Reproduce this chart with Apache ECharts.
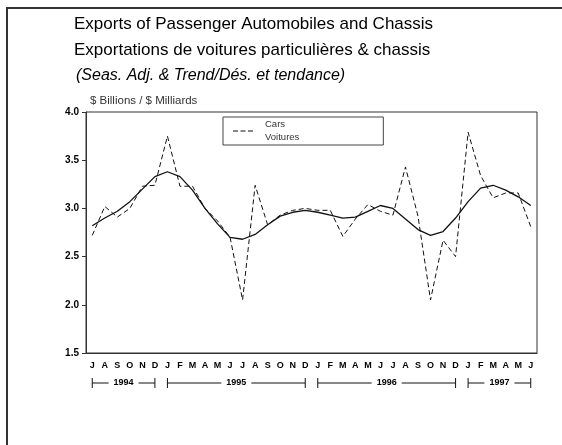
<!DOCTYPE html>
<html>
<head>
<meta charset="utf-8">
<script src="https://cdn.jsdelivr.net/npm/echarts@6/dist/echarts.min.js"></script>
<style>
html, body { margin: 0; padding: 0; background: #fff; }
#main { width: 562px; height: 445px; }
</style>
</head>
<body>
<div id="main"></div>
<script>
// Jul 1994 .. Jun 1997
const months = ['J','A','S','O','N','D',
  'J','F','M','A','M','J','J','A','S','O','N','D',
  'J','F','M','A','M','J','J','A','S','O','N','D',
  'J','F','M','A','M','J'];

// seasonally adjusted (dashed)
const cars = [2.72, 3.02, 2.91, 3.00, 3.23, 3.24,
  3.75, 3.23, 3.23, 3.00, 2.87, 2.70, 2.05, 3.24, 2.83, 2.93, 2.98, 3.00,
  2.98, 2.98, 2.71, 2.89, 3.04, 2.97, 2.93, 3.43, 2.92, 2.05, 2.67, 2.50,
  3.79, 3.34, 3.11, 3.16, 3.16, 2.81];

// trend (solid)
const trend = [2.82, 2.90, 2.97, 3.07, 3.20, 3.33,
  3.38, 3.33, 3.19, 3.00, 2.84, 2.70, 2.68, 2.73, 2.83, 2.92, 2.96, 2.98,
  2.96, 2.93, 2.90, 2.91, 2.97, 3.03, 3.00, 2.89, 2.78, 2.72, 2.76, 2.90,
  3.07, 3.21, 3.24, 3.19, 3.12, 3.03];

const years = ['1994', '1995', '1996', '1997'];
const yearFirst = [0, 6, 18, 30];
const yearLast = [5, 17, 29, 35];

const font = 'Liberation Sans';

let chart = echarts.init(document.getElementById('main'));

let options = {
    animation: false,
    title: [
        {
            text: 'Exports of Passenger Automobiles and Chassis',
            left: 69, top: 11,
            textStyle: { fontFamily: font, fontSize: 17, fontWeight: 'normal', color: '#000' }
        },
        {
            text: 'Exportations de voitures particulières & chassis',
            left: 69, top: 37,
            textStyle: { fontFamily: font, fontSize: 17, fontWeight: 'normal', color: '#000' }
        },
        {
            text: '(Seas. Adj. & Trend/Dés. et tendance)',
            left: 71, top: 63,
            textStyle: { fontFamily: font, fontSize: 16, fontStyle: 'italic', fontWeight: 'normal', color: '#000' }
        }
    ],
    legend: {
        data: [{
            name: 'Cars\nVoitures',
            icon: 'path://M0,0h5v1h-5zM7.5,0h5v1h-5zM15,0h5v1h-5z'
        }],
        left: 223, top: 117,
        orient: 'vertical',
        padding: [1, 84, 1, 10],
        borderColor: '#444',
        borderWidth: 1,
        itemWidth: 20,
        itemHeight: 1,
        itemStyle: { color: '#111', borderWidth: 0 },
        textStyle: { fontFamily: font, fontSize: 9.5, color: '#333', lineHeight: 13, padding: [0, 0, 0, 7] }
    },
    grid: {
        left: 86, right: 25, top: 112, height: 241,
        show: true, borderColor: '#333', borderWidth: 1
    },
    xAxis: {
        type: 'category',
        data: months,
        boundaryGap: true,
        axisLine: { lineStyle: { color: '#333' } },
        axisTick: { show: false },
        axisLabel: { interval: 0, margin: 8, fontFamily: font, fontSize: 9, fontWeight: 'bold', color: '#000' }
    },
    yAxis: {
        type: 'value',
        min: 1.5, max: 4.0, interval: 0.5,
        name: '$ Billions / $ Milliards',
        nameLocation: 'end',
        nameGap: 5,
        nameTextStyle: { fontFamily: font, fontSize: 11.5, color: '#333', align: 'left', padding: [0, 0, 0, 4] },
        axisLine: { show: true, lineStyle: { color: '#333' } },
        axisTick: { show: true, length: 4, lineStyle: { color: '#333' } },
        splitLine: { show: false },
        axisLabel: {
            margin: 7, fontFamily: font, fontSize: 10, fontWeight: 'bold', color: '#000',
            formatter: v => v.toFixed(1)
        }
    },
    series: [
        {
            name: 'Cars\nVoitures',
            type: 'line',
            data: cars,
            symbol: 'none',
            itemStyle: { color: '#111' },
            lineStyle: { color: '#111', width: 1, type: [5, 3] }
        },
        {
            name: 'Trend',
            type: 'line',
            data: trend,
            symbol: 'none',
            itemStyle: { color: '#111' },
            lineStyle: { color: '#111', width: 1.3 }
        }
    ]
};

chart.setOption(options);

// outer frame + year brackets under the month labels
let gr = [{
    type: 'rect',
    shape: { x: 7, y: 8, width: 620, height: 520 },
    style: { fill: 'none', stroke: '#333', lineWidth: 2 }
}];
const by = 383;
years.forEach((y, k) => {
    let x0 = chart.convertToPixel({ xAxisIndex: 0 }, yearFirst[k]);
    let x1 = chart.convertToPixel({ xAxisIndex: 0 }, yearLast[k]);
    let mid = (x0 + x1) / 2;
    let half = 15;
    let ls = { stroke: '#111', lineWidth: 1 };
    gr.push({ type: 'line', shape: { x1: x0, y1: by - 5, x2: x0, y2: by + 5 }, style: ls });
    gr.push({ type: 'line', shape: { x1: x1, y1: by - 5, x2: x1, y2: by + 5 }, style: ls });
    gr.push({ type: 'line', shape: { x1: x0, y1: by, x2: mid - half, y2: by }, style: ls });
    gr.push({ type: 'line', shape: { x1: mid + half, y1: by, x2: x1, y2: by }, style: ls });
    gr.push({
        type: 'text', x: mid, y: by,
        style: { text: y, fontFamily: font, fontSize: 9, fontWeight: 'bold', fill: '#000', align: 'center', verticalAlign: 'middle' }
    });
});
chart.setOption({ graphic: gr });
</script>
</body>
</html>
